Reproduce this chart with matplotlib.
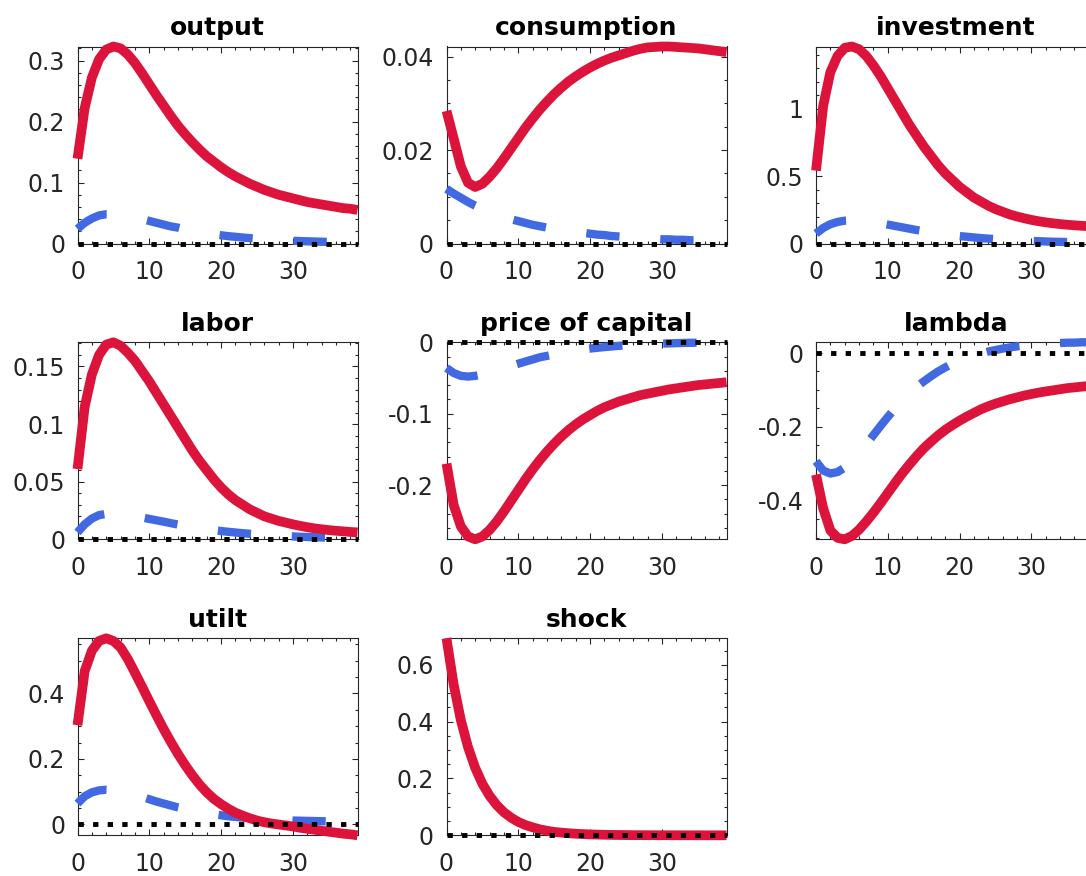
"""
Impulse responses, 3x3 grid (last cell empty), MATLAB-style look.
Values read off the reference picture, t = 0..39.
"""
import numpy as np
import matplotlib
matplotlib.use("Agg")
import matplotlib.pyplot as plt
from matplotlib.ticker import AutoMinorLocator, FuncFormatter

plt.rcParams["font.family"] = ["DejaVu Sans"]
plt.rcParams["axes.unicode_minus"] = False

# ------------------------------------------------------------------
# Data
# ------------------------------------------------------------------
PERIODS = list(range(40))

TITLES = ["output", "consumption", "investment", "labor",
          "price of capital", "lambda", "utilt", "shock"]

RED_OUTPUT = [0.139, 0.222, 0.272, 0.302, 0.318, 0.323, 0.320, 0.310, 0.296, 0.279,
              0.261, 0.243, 0.226, 0.209, 0.193, 0.179, 0.166, 0.154, 0.143, 0.134,
              0.125, 0.117, 0.110, 0.104, 0.098, 0.093, 0.088, 0.084, 0.080, 0.077,
              0.074, 0.071, 0.068, 0.066, 0.064, 0.062, 0.060, 0.058, 0.057, 0.055]
BLUE_OUTPUT = [0.024, 0.034, 0.041, 0.046, 0.048, 0.048, 0.047, 0.045, 0.043, 0.040,
               0.037, 0.034, 0.031, 0.028, 0.026, 0.023, 0.021, 0.019, 0.017, 0.015,
               0.0135, 0.012, 0.011, 0.0098, 0.0088, 0.0079, 0.0071, 0.0063, 0.0056, 0.0050,
               0.0045, 0.0040, 0.0036, 0.0032, 0.0029, 0.0026, 0.0023, 0.0021, 0.0019, 0.0017]

RED_CONS = [0.0284, 0.0225, 0.0165, 0.0130, 0.0121, 0.0128, 0.0143, 0.0161, 0.0182, 0.0204,
            0.0226, 0.0248, 0.0268, 0.0287, 0.0304, 0.0320, 0.0334, 0.0347, 0.0358, 0.0368,
            0.0377, 0.0385, 0.0392, 0.0398, 0.0403, 0.0408, 0.0413, 0.0417, 0.0420, 0.0421,
            0.0422, 0.0422, 0.0421, 0.0420, 0.0419, 0.0418, 0.0416, 0.0414, 0.0412, 0.0410]
BLUE_CONS = [0.0117, 0.0107, 0.0098, 0.0089, 0.0081, 0.0074, 0.0067, 0.0062, 0.0057, 0.0052,
             0.0048, 0.0044, 0.0040, 0.0037, 0.0034, 0.0031, 0.0029, 0.0027, 0.0025, 0.0023,
             0.0021, 0.0019, 0.0018, 0.0016, 0.0015, 0.0014, 0.0013, 0.0012, 0.0011, 0.0010,
             0.0009, 0.0009, 0.0008, 0.0008, 0.0007, 0.0007, 0.0006, 0.0006, 0.0005, 0.0005]

RED_INV = [0.54, 1.02, 1.27, 1.39, 1.45, 1.46, 1.44, 1.39, 1.32, 1.24,
           1.15, 1.06, 0.97, 0.88, 0.80, 0.72, 0.65, 0.58, 0.52, 0.47,
           0.42, 0.38, 0.34, 0.31, 0.28, 0.255, 0.235, 0.215, 0.200, 0.187,
           0.175, 0.165, 0.157, 0.150, 0.144, 0.139, 0.135, 0.131, 0.128, 0.125]
BLUE_INV = [0.074, 0.115, 0.143, 0.160, 0.169, 0.172, 0.170, 0.166, 0.159, 0.150,
            0.140, 0.130, 0.120, 0.110, 0.100, 0.091, 0.083, 0.075, 0.068, 0.061,
            0.055, 0.050, 0.045, 0.040, 0.036, 0.032, 0.029, 0.026, 0.023, 0.021,
            0.019, 0.017, 0.015, 0.013, 0.012, 0.011, 0.010, 0.009, 0.008, 0.007]

RED_LABOR = [0.061, 0.115, 0.143, 0.160, 0.169, 0.171, 0.168, 0.162, 0.155, 0.146,
             0.137, 0.127, 0.117, 0.107, 0.097, 0.087, 0.077, 0.068, 0.060, 0.052,
             0.045, 0.039, 0.034, 0.030, 0.026, 0.023, 0.020, 0.018, 0.016, 0.0145,
             0.013, 0.0117, 0.0105, 0.0095, 0.0087, 0.0080, 0.0074, 0.0069, 0.0064, 0.0060]
BLUE_LABOR = [0.006, 0.013, 0.018, 0.021, 0.022, 0.0225, 0.022, 0.021, 0.020, 0.019,
              0.0177, 0.0165, 0.0153, 0.0140, 0.0128, 0.0117, 0.0106, 0.0096, 0.0087, 0.0079,
              0.0072, 0.0065, 0.0059, 0.0053, 0.0048, 0.0043, 0.0039, 0.0035, 0.0031, 0.0028,
              0.0025, 0.0022, 0.0020, 0.0018, 0.0016, 0.0014, 0.0013, 0.0011, 0.0010, 0.0009]

RED_PK = [-0.170, -0.228, -0.258, -0.272, -0.276, -0.272, -0.263, -0.251, -0.237, -0.222,
          -0.207, -0.192, -0.178, -0.165, -0.153, -0.142, -0.132, -0.123, -0.115, -0.108,
          -0.102, -0.096, -0.091, -0.087, -0.083, -0.080, -0.077, -0.074, -0.072, -0.070,
          -0.068, -0.066, -0.0645, -0.063, -0.0615, -0.060, -0.059, -0.058, -0.057, -0.056]
BLUE_PK = [-0.036, -0.043, -0.047, -0.048, -0.047, -0.045, -0.042, -0.039, -0.036, -0.033,
           -0.030, -0.027, -0.024, -0.021, -0.019, -0.017, -0.015, -0.013, -0.0115, -0.010,
           -0.0088, -0.0077, -0.0067, -0.0058, -0.0050, -0.0043, -0.0037, -0.0031, -0.0026, -0.0022,
           -0.0018, -0.0015, -0.0012, -0.0009, -0.0007, -0.0005, -0.0003, -0.0002, -0.0001, 0.0]

RED_LAMBDA = [-0.329, -0.420, -0.480, -0.500, -0.504, -0.495, -0.478, -0.456, -0.432, -0.406,
              -0.379, -0.352, -0.326, -0.302, -0.279, -0.258, -0.240, -0.223, -0.208, -0.195,
              -0.183, -0.172, -0.162, -0.152, -0.144, -0.137, -0.131, -0.125, -0.120, -0.115,
              -0.111, -0.107, -0.104, -0.101, -0.098, -0.095, -0.093, -0.091, -0.089, -0.087]
BLUE_LAMBDA = [-0.293, -0.318, -0.326, -0.322, -0.310, -0.292, -0.271, -0.247, -0.222, -0.197,
               -0.173, -0.150, -0.129, -0.110, -0.092, -0.077, -0.063, -0.050, -0.039, -0.029,
               -0.021, -0.013, -0.007, -0.001, 0.004, 0.008, 0.012, 0.015, 0.018, 0.020,
               0.022, 0.024, 0.025, 0.026, 0.027, 0.028, 0.028, 0.029, 0.029, 0.029]

RED_UTILT = [0.303, 0.468, 0.530, 0.560, 0.568, 0.560, 0.540, 0.505, 0.463, 0.420,
             0.376, 0.333, 0.291, 0.252, 0.215, 0.181, 0.150, 0.122, 0.098, 0.078,
             0.062, 0.048, 0.036, 0.027, 0.019, 0.012, 0.007, 0.003, 0.000, -0.003,
             -0.006, -0.010, -0.013, -0.016, -0.019, -0.022, -0.025, -0.028, -0.030, -0.033]
BLUE_UTILT = [0.064, 0.086, 0.098, 0.104, 0.106, 0.105, 0.101, 0.096, 0.090, 0.084,
              0.077, 0.070, 0.064, 0.058, 0.052, 0.047, 0.042, 0.038, 0.034, 0.031,
              0.028, 0.025, 0.023, 0.021, 0.019, 0.017, 0.016, 0.015, 0.014, 0.013,
              0.012, 0.0115, 0.011, 0.0105, 0.010, 0.0095, 0.009, 0.0085, 0.008, 0.0075]

RED_SHOCK = [0.693, 0.530, 0.405, 0.310, 0.237, 0.181, 0.139, 0.106, 0.081, 0.062,
             0.047, 0.036, 0.028, 0.021, 0.016, 0.012, 0.0095, 0.0073, 0.0055, 0.0042,
             0.0032, 0.0025, 0.0019, 0.0014, 0.0011, 0.0008, 0.0006, 0.0005, 0.0004, 0.0003,
             0.0002, 0.0002, 0.0001, 0.0001, 0.0001, 0.0001, 0.0, 0.0, 0.0, 0.0]
BLUE_SHOCK = RED_SHOCK  # hidden under the red line in the reference

RED = [RED_OUTPUT, RED_CONS, RED_INV, RED_LABOR, RED_PK, RED_LAMBDA, RED_UTILT, RED_SHOCK]
BLUE = [BLUE_OUTPUT, BLUE_CONS, BLUE_INV, BLUE_LABOR, BLUE_PK, BLUE_LAMBDA, BLUE_UTILT, BLUE_SHOCK]

XTICKS = [0, 10, 20, 30]
YTICKS = [[0, 0.1, 0.2, 0.3],
          [0, 0.02, 0.04],
          [0, 0.5, 1],
          [0, 0.05, 0.1, 0.15],
          [-0.2, -0.1, 0],
          [-0.4, -0.2, 0],
          [0, 0.2, 0.4],
          [0, 0.2, 0.4, 0.6]]

# ------------------------------------------------------------------
# Layout (pixels of a 1086x876 canvas)
# ------------------------------------------------------------------
FIG_W, FIG_H = 1086, 876
COL_LEFT = [77.5, 446.5, 816]
ROW_TOP = [46.5, 342.3, 638.3]
AX_W, AX_H = 280, 197

RED_C = "#DC143C"
BLUE_C = "#4169E1"
GREY = "#262626"


def plot_irfs():
    fig = plt.figure(figsize=(FIG_W / 100, FIG_H / 100), dpi=100)
    t = np.array(PERIODS)
    zero = np.zeros(len(PERIODS))

    for i, title in enumerate(TITLES):
        r, c = divmod(i, 3)
        left = COL_LEFT[c] / FIG_W
        bottom = 1 - (ROW_TOP[r] + AX_H) / FIG_H
        ax = fig.add_axes([left, bottom, AX_W / FIG_W, AX_H / FIG_H])

        red = np.array(RED[i])
        blue = np.array(BLUE[i])

        ax.plot(t, blue, color=BLUE_C, lw=6, ls=(0, (4.0, 4.9)),
                dash_capstyle="butt", clip_on=False, zorder=3)
        ax.plot(t, red, color=RED_C, lw=7, solid_capstyle="butt",
                clip_on=False, zorder=4)
        ax.plot(t, zero, color="black", lw=3.5, ls=(0, (1.1, 1.9)),
                dash_capstyle="butt", clip_on=False, zorder=5)

        # axis tight
        lo = min(red.min(), blue.min(), 0)
        hi = max(red.max(), blue.max(), 0)
        ax.set_xlim(0, 39)
        ax.set_ylim(lo, hi)

        ax.set_xticks(XTICKS)
        ax.set_yticks(YTICKS[i])
        ax.yaxis.set_major_formatter(FuncFormatter(lambda v, p: f"{v:g}"))
        ax.xaxis.set_minor_locator(AutoMinorLocator())
        ax.yaxis.set_minor_locator(AutoMinorLocator())

        ax.tick_params(which="both", direction="in", top=True, right=True,
                       color=GREY, labelcolor=GREY, labelsize=17, width=0.8)
        ax.tick_params(which="major", length=4.5)
        ax.tick_params(which="minor", length=2.5)
        ax.tick_params(axis="x", pad=12)
        ax.tick_params(axis="y", pad=9)
        for s in ax.spines.values():
            s.set_color(GREY)
            s.set_linewidth(0.8)

        ax.set_title(title, fontsize=18, fontweight="bold", pad=8)

    fig.savefig("out.png", dpi=100)
    plt.close(fig)


if __name__ == "__main__":
    plot_irfs()
